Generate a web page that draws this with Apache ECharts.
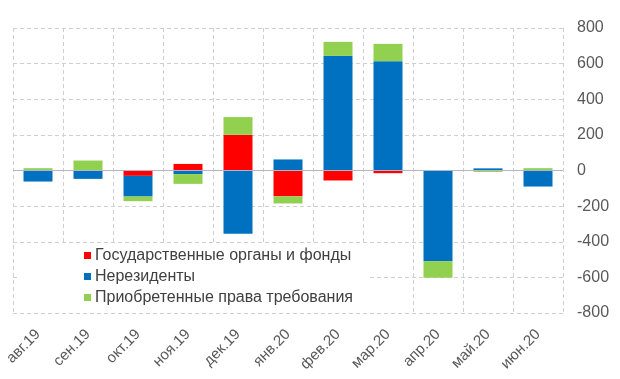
<!DOCTYPE html>
<html>
<head>
<meta charset="utf-8">
<script src="https://cdn.jsdelivr.net/npm/echarts@6/dist/echarts.min.js"></script>
<style>
html,body{margin:0;padding:0;background:#fff;}
#c{width:620px;height:379px;}
</style>
</head>
<body>
<div id="c"></div>
<script>
var categories = ['авг.19','сен.19','окт.19','ноя.19','дек.19','янв.20','фев.20','мар.20','апр.20','май.20','июн.20'];
var govValues = [3, 0, -30, 37, 200, -145, -56, -15, 0, 0, 0];
var nonresValues = [-62, -47, -116, -20, -355, 62, 644, 614, -509, 12, -90];
var claimsValues = [10, 56, -26, -55, 100, -40, 78, 97, -93, -8, 13];
var seriesNames = ['Государственные органы и фонды', 'Нерезиденты', 'Приобретенные права требования'];
var yTicks = [-800, -600, -400, -200, 0, 200, 400, 600, 800];

var chart = echarts.init(document.getElementById('c'), null, {renderer: 'canvas'});
var font = 'Liberation Sans, Arial, sans-serif';
function bar(name, data, color) {
  return {
    name: name, type: 'bar', stack: 'total', data: data, barWidth: 29,
    itemStyle: {color: color}, emphasis: {disabled: true}
  };
}
var s1 = bar(seriesNames[0], govValues, '#FF0000');
s1.markLine = {
  silent: true, symbol: 'none', label: {show: false},
  lineStyle: {color: '#b4b4c6', type: 'solid', width: 1},
  data: [{yAxis: 0}], animation: false
};
chart.setOption({
  animation: false,
  grid: {left: 13, right: 57, top: 28, bottom: 66},
  legend: {
    orient: 'vertical', left: 17, top: 243,
    padding: [2, 17, 4, 67], itemGap: 0,
    backgroundColor: '#ffffff',
    itemWidth: 7, itemHeight: 7, icon: 'rect',
    textStyle: {fontFamily: font, fontSize: 16, color: '#404040', lineHeight: 21, padding: [0,0,0,-1]},
    data: seriesNames
  },
  xAxis: {
    type: 'category', data: categories,
    axisLine: {show: false, onZero: false},
    axisTick: {show: false},
    splitLine: {show: true, lineStyle: {color: '#d0d0d0', type: [4, 3]}},
    axisLabel: {rotate: 45, margin: 19, fontFamily: font, fontSize: 15, color: '#595959', interval: 0}
  },
  yAxis: {
    type: 'value', position: 'right', min: -800, max: 800, interval: 200,
    axisLine: {show: false}, axisTick: {show: false},
    splitLine: {show: true, lineStyle: {color: '#d0d0d0', type: [4, 3]}},
    axisLabel: {margin: 14, fontFamily: font, fontSize: 16, color: '#595959',
      formatter: function(v){ return yTicks.indexOf(v) >= 0 ? String(v) : ''; }}
  },
  series: [s1, bar(seriesNames[1], nonresValues, '#0070C0'), bar(seriesNames[2], claimsValues, '#92D050')]
});
</script>
</body>
</html>
